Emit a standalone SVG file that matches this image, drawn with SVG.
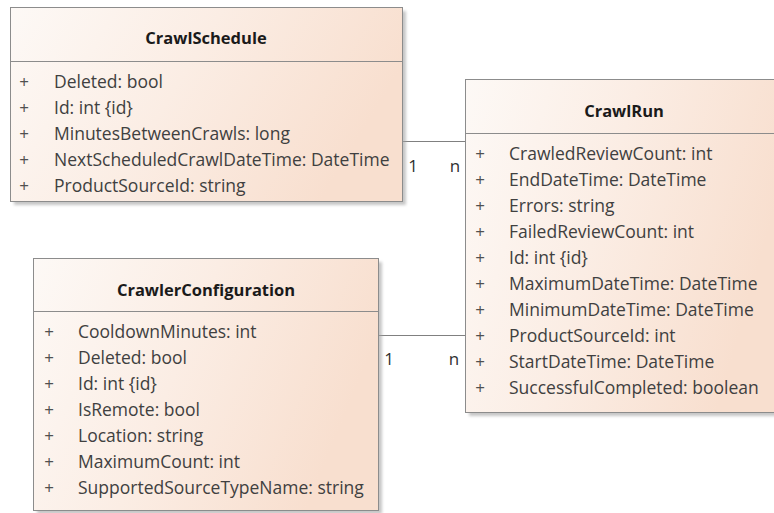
<svg xmlns="http://www.w3.org/2000/svg" width="774" height="513" viewBox="0 0 774 513">
<defs>
<linearGradient id="fillGrad" x1="0" y1="0" x2="1" y2="0.3">
<stop offset="0" stop-color="#fdf9f6"/>
<stop offset="0.5" stop-color="#fbede4"/>
<stop offset="1" stop-color="#f8dfcf"/>
</linearGradient>
<filter id="shadow" x="-5%" y="-5%" width="115%" height="115%">
<feGaussianBlur stdDeviation="1.8"/>
</filter>
</defs>
<style>
.box{fill:url(#fillGrad);stroke:#8c8c8c;stroke-width:1}
.shd{fill:#a0a0a0;opacity:0.6;filter:url(#shadow)}
.div{stroke:#8c8c8c;stroke-width:1}
.title{font-family:"Open Sans","Noto Sans",sans-serif;font-weight:bold;font-size:16.5px;fill:#1a1a1a;text-anchor:middle}
.attr{font-family:"Open Sans","Noto Sans",sans-serif;font-size:17.5px;fill:#404040}
.plus{font-family:"Open Sans","Noto Sans",sans-serif;font-size:17px;fill:#505050;text-anchor:middle}
.lbl{font-family:"Open Sans","Noto Sans",sans-serif;font-size:17px;fill:#303030;text-anchor:middle}
.conn{stroke:#808080;stroke-width:1;fill:none}
</style>
<rect width="774" height="513" fill="#ffffff"/>

<g id="connectors">
<line class="conn" x1="402.5" y1="141.5" x2="465.5" y2="141.5"/>
<line class="conn" x1="378.5" y1="335.5" x2="465.5" y2="335.5"/>
<text class="lbl" x="413" y="172">1</text>
<text class="lbl" x="455" y="172">n</text>
<text class="lbl" x="389" y="365">1</text>
<text class="lbl" x="454" y="365">n</text>
</g>

<g id="node-crawlschedule">
<rect class="shd" x="14" y="11" width="392" height="194"/>
<rect class="box" x="10.5" y="7.5" width="392" height="194"/>
<line class="div" x1="10.5" y1="61.5" x2="402.5" y2="61.5"/>
<text class="title" x="206" y="44">CrawlSchedule</text>
<g>
<text class="plus" x="24" y="88">+</text><text class="attr" x="54" y="88">Deleted: bool</text>
<text class="plus" x="24" y="114">+</text><text class="attr" x="54" y="114">Id: int {id}</text>
<text class="plus" x="24" y="140">+</text><text class="attr" x="54" y="140">MinutesBetweenCrawls: long</text>
<text class="plus" x="24" y="166">+</text><text class="attr" x="54" y="166">NextScheduledCrawlDateTime: DateTime</text>
<text class="plus" x="24" y="192">+</text><text class="attr" x="54" y="192">ProductSourceId: string</text>
</g>
</g>

<g id="node-crawlrun">
<rect class="shd" x="469" y="83" width="318" height="333"/>
<rect class="box" x="465.5" y="79.5" width="318" height="333"/>
<line class="div" x1="465.5" y1="133.5" x2="783.5" y2="133.5"/>
<text class="title" x="624" y="117">CrawlRun</text>
<g>
<text class="plus" x="480" y="160">+</text><text class="attr" x="509" y="160">CrawledReviewCount: int</text>
<text class="plus" x="480" y="186">+</text><text class="attr" x="509" y="186">EndDateTime: DateTime</text>
<text class="plus" x="480" y="212">+</text><text class="attr" x="509" y="212">Errors: string</text>
<text class="plus" x="480" y="238">+</text><text class="attr" x="509" y="238">FailedReviewCount: int</text>
<text class="plus" x="480" y="264">+</text><text class="attr" x="509" y="264">Id: int {id}</text>
<text class="plus" x="480" y="290">+</text><text class="attr" x="509" y="290">MaximumDateTime: DateTime</text>
<text class="plus" x="480" y="316">+</text><text class="attr" x="509" y="316">MinimumDateTime: DateTime</text>
<text class="plus" x="480" y="342">+</text><text class="attr" x="509" y="342">ProductSourceId: int</text>
<text class="plus" x="480" y="368">+</text><text class="attr" x="509" y="368">StartDateTime: DateTime</text>
<text class="plus" x="480" y="394">+</text><text class="attr" x="509" y="394">SuccessfulCompleted: boolean</text>
</g>
</g>

<g id="node-crawlerconfiguration">
<rect class="shd" x="37" y="262" width="345" height="252"/>
<rect class="box" x="33.5" y="258.5" width="345" height="252"/>
<line class="div" x1="33.5" y1="311.5" x2="378.5" y2="311.5"/>
<text class="title" x="206" y="296">CrawlerConfiguration</text>
<g>
<text class="plus" x="49" y="338">+</text><text class="attr" x="78" y="338">CooldownMinutes: int</text>
<text class="plus" x="49" y="364">+</text><text class="attr" x="78" y="364">Deleted: bool</text>
<text class="plus" x="49" y="390">+</text><text class="attr" x="78" y="390">Id: int {id}</text>
<text class="plus" x="49" y="416">+</text><text class="attr" x="78" y="416">IsRemote: bool</text>
<text class="plus" x="49" y="442">+</text><text class="attr" x="78" y="442">Location: string</text>
<text class="plus" x="49" y="468">+</text><text class="attr" x="78" y="468">MaximumCount: int</text>
<text class="plus" x="49" y="494">+</text><text class="attr" x="78" y="494">SupportedSourceTypeName: string</text>
</g>
</g>
</svg>
